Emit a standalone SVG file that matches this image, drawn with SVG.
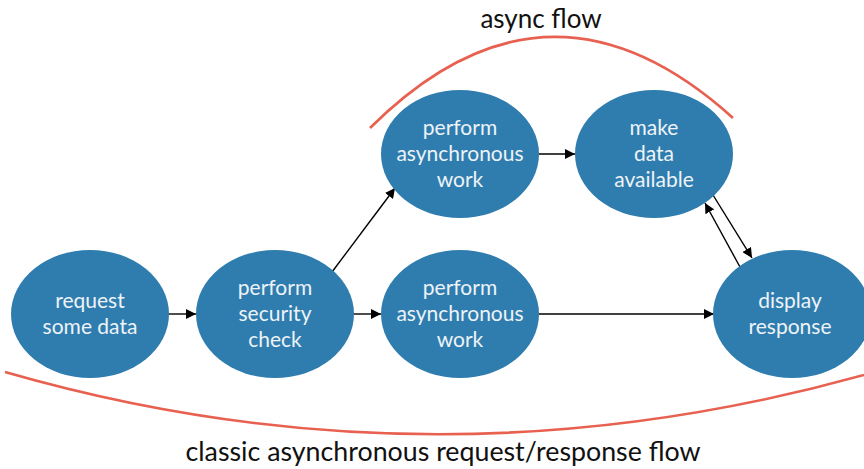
<svg xmlns="http://www.w3.org/2000/svg" width="864" height="469" viewBox="0 0 864 469">
<style>
.node{fill:#2f7dae}
.nt{fill:#eef3f8;font-family:Lato,"Noto Sans",sans-serif;font-size:21px;text-anchor:middle}
.edge{stroke:#000;stroke-width:1.4;fill:none;marker-end:url(#ah)}
.arc{stroke:#e8604f;stroke-width:2.6;fill:none}
.lbl{fill:#111;font-family:Lato,"Noto Sans",sans-serif;font-size:26px;text-anchor:middle}
</style>
<defs>
<marker id="ah" viewBox="0 0 10 10" refX="10" refY="5" markerWidth="10" markerHeight="10" markerUnits="userSpaceOnUse" orient="auto">
<path d="M0,0 L10,5 L0,10 z" fill="#000"/>
</marker>
</defs>
<rect width="864" height="469" fill="#fff"/>
<g id="arcs">
<path class="arc" d="M370,128 Q548,-49 733,118"/>
<path class="arc" d="M5,372 Q432,495 864,375"/>
<text class="lbl" x="541" y="28">async flow</text>
<text class="lbl" x="443" y="461" textLength="515" lengthAdjust="spacingAndGlyphs">classic asynchronous request/response flow</text>
</g>
<g id="connectors">
<line class="edge" x1="168" y1="314" x2="196" y2="314"/>
<line class="edge" x1="353" y1="314" x2="381" y2="314"/>
<line class="edge" x1="539" y1="314" x2="714" y2="314"/>
<line class="edge" x1="539" y1="154" x2="575" y2="154"/>
<line class="edge" x1="332" y1="272" x2="395" y2="188"/>
<line class="edge" x1="713" y1="195" x2="752" y2="258"/>
<line class="edge" x1="740" y1="267" x2="705" y2="203"/>
</g>
<g id="n1">
<ellipse class="node" cx="90" cy="314" rx="79" ry="64"/>
<text class="nt" x="90" y="308">request</text>
<text class="nt" x="90" y="334">some data</text>
</g>
<g id="n2">
<ellipse class="node" cx="275" cy="314" rx="79" ry="64"/>
<text class="nt" x="275" y="295">perform</text>
<text class="nt" x="275" y="321">security</text>
<text class="nt" x="275" y="347">check</text>
</g>
<g id="n3">
<ellipse class="node" cx="460" cy="314" rx="79" ry="64"/>
<text class="nt" x="460" y="295">perform</text>
<text class="nt" x="460" y="321">asynchronous</text>
<text class="nt" x="460" y="347">work</text>
</g>
<g id="n4">
<ellipse class="node" cx="460" cy="154" rx="79" ry="64"/>
<text class="nt" x="460" y="135">perform</text>
<text class="nt" x="460" y="161">asynchronous</text>
<text class="nt" x="460" y="187">work</text>
</g>
<g id="n5">
<ellipse class="node" cx="654" cy="154" rx="79" ry="64"/>
<text class="nt" x="654" y="135">make</text>
<text class="nt" x="654" y="161">data</text>
<text class="nt" x="654" y="187">available</text>
</g>
<g id="n6">
<ellipse class="node" cx="792" cy="314" rx="79" ry="64"/>
<text class="nt" x="790" y="308">display</text>
<text class="nt" x="790" y="334">response</text>
</g>
</svg>
